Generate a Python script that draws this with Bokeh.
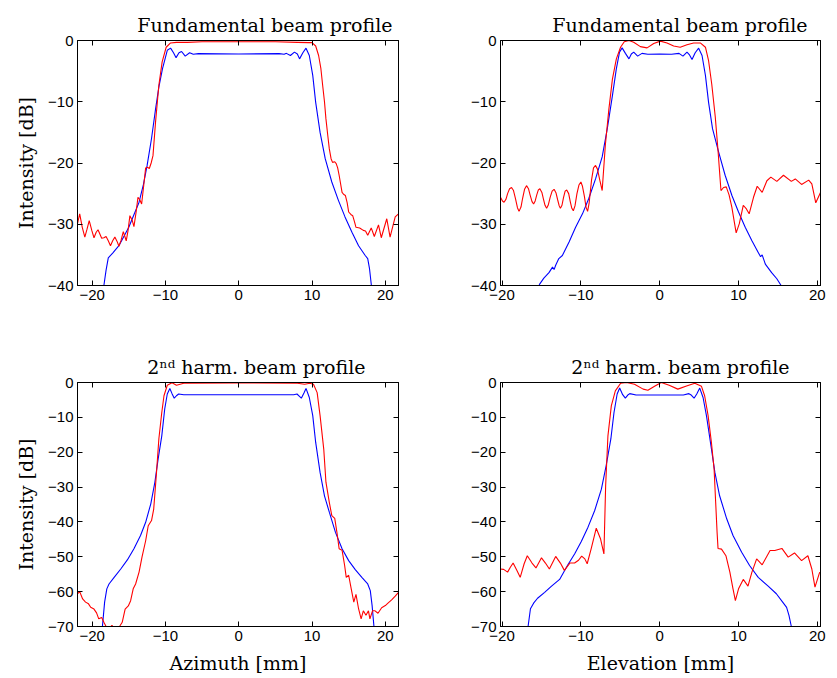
from bokeh.plotting import figure
from bokeh.models import Range1d, FixedTicker, LinearAxis, CustomJSTickFormatter
from bokeh.layouts import column, row
from bokeh.embed import file_html
from bokeh.resources import INLINE

# ---------------- data ----------------
# Top-left: fundamental, azimuth
az_fund_blue_x = [-18.4, -18.1, -17.8, -17.2, -16.35, -15.0, -13.6, -13.0, -12.5, -11.9, -11.35,
                  -10.9, -10.4, -9.75, -9.3, -8.9, -8.55, -8.15, -7.8, -7.3, -6.7, -6.2, -5.5,
                  0.0, 5.5, 6.2, 6.5, 7.05, 7.6, 8.0, 8.3, 8.75, 9.18, 9.63, 10.1, 10.5, 11.1,
                  11.8, 12.7, 13.6, 14.5, 15.45, 16.35, 17.26, 17.6, 17.85, 18.1]
az_fund_blue_y = [-40.0, -37.5, -35.5, -34.7, -33.5, -30.5, -26.4, -23.5, -20.4, -16.0, -11.2,
                  -7.6, -4.6, -1.6, -1.25, -2.0, -2.8, -2.0, -1.8, -2.55, -2.0, -2.25, -2.15,
                  -2.2, -2.15, -2.25, -2.1, -2.45, -1.9, -2.2, -3.0, -2.0, -1.25, -2.45, -5.7,
                  -10.1, -15.0, -19.3, -23.1, -26.1, -28.8, -31.3, -33.5, -35.1, -35.6, -37.3, -40.0]
az_fund_red_x = [-22.0, -21.7, -21.35, -21.0, -20.7, -20.4, -20.05, -19.75, -19.45, -19.2, -18.95,
                 -18.7, -18.4, -18.1, -17.8, -17.5, -17.2, -16.9, -16.6, -16.35, -16.05, -15.75,
                 -15.35, -15.1, -14.85, -14.55, -14.3, -14.0, -13.75, -13.5, -13.25, -12.95, -12.7,
                 -12.45, -12.2, -11.95, -11.7, -11.35, -10.9, -10.45, -9.9, -9.3, -8.5, -7.0, -5.0,
                 0.0, 5.0, 8.0, 9.5, 10.0, 10.5, 10.9, 11.2, 11.45, 11.7, 11.9, 12.15, 12.36, 12.6,
                 12.8, 13.1, 13.3, 13.5, 13.7, 14.1, 14.3, 14.55, 14.8, 15.0, 15.3, 15.55, 15.8,
                 16.0, 16.5, 17.0, 17.3, 17.6, 18.08, 18.5, 19.07, 19.45, 20.2, 20.65, 21.35, 21.8]
az_fund_red_y = [-29.9, -28.3, -30.5, -32.1, -30.8, -29.4, -31.0, -32.2, -31.3, -30.9, -31.6,
                 -32.3, -32.2, -32.0, -32.7, -33.5, -32.7, -32.1, -32.8, -33.6, -32.6, -31.2,
                 -32.7, -31.0, -28.6, -29.3, -30.4, -28.0, -25.6, -26.0, -26.7, -23.5, -20.8,
                 -20.7, -20.9, -20.0, -18.8, -13.3, -7.3, -3.5, -1.1, -0.4, -0.3, -0.3, -0.2,
                 -0.2, -0.2, -0.3, -0.35, -0.35, -0.9, -2.45, -4.5, -7.3, -10.0, -12.8, -15.5, -17.7, -19.3,
                 -19.9, -19.8, -20.1, -20.8, -22.0, -24.8, -25.1, -25.3, -26.5, -28.0, -28.4, -28.6, -29.6,
                 -30.5, -30.6, -31.0, -31.1, -31.8, -30.6, -32.0, -30.1, -32.2, -29.1, -32.1, -28.8, -28.3]

# Top-right: fundamental, elevation
el_fund_blue_x = [-15.3, -14.7, -14.05, -13.6, -13.4, -13.2, -12.8, -12.35, -11.5, -10.67, -9.8,
                  -9.0, -8.14, -7.3, -6.65, -6.0, -5.5, -5.1, -4.77, -4.35, -3.9, -3.6, -3.3,
                  -2.8, -2.25, -1.5, 0.0, 1.5, 2.45, 2.95, 3.46, 3.75, 4.1, 4.5, 4.94, 5.37, 5.8,
                  6.2, 6.7, 7.47, 8.3, 9.16, 10.0, 10.85, 11.7, 12.5, 12.8, 13.0, 13.4, 14.2, 14.86, 15.4]
el_fund_blue_y = [-39.9, -38.8, -37.9, -37.0, -37.4, -36.7, -35.6, -35.1, -32.9, -30.5, -28.3,
                  -25.8, -22.6, -19.0, -14.4, -9.0, -4.6, -1.9, -1.2, -2.1, -3.0, -2.2, -1.9,
                  -2.55, -2.1, -2.25, -2.2, -2.25, -2.1, -2.55, -1.9, -2.3, -3.1, -2.0, -1.25, -2.45, -5.7,
                  -10.1, -14.4, -18.2, -22.0, -25.3, -28.0, -30.5, -32.7, -34.6, -35.3, -35.0, -36.5,
                  -37.9, -38.9, -40.0]
el_fund_red_x = [-20.2, -19.95, -19.75, -19.5, -19.3, -19.05, -18.8, -18.55, -18.3, -18.05, -17.85,
                 -17.6, -17.4, -17.15, -16.9, -16.65, -16.45, -16.2, -16.0, -15.8, -15.6, -15.4,
                 -15.2, -14.95, -14.75, -14.55, -14.35, -14.15, -13.9, -13.65, -13.4, -13.15, -12.95,
                 -12.75, -12.6, -12.4, -12.2, -12.0, -11.8, -11.55, -11.35, -11.15, -10.96, -10.75,
                 -10.5, -10.25, -10.0, -9.8, -9.55, -9.35, -9.15, -8.95, -8.65, -8.4, -8.14, -7.9,
                 -7.6, -7.3, -6.9, -6.45, -6.0, -5.5,
                 -4.97, -4.5, -3.9, -3.3, -2.45, -1.6, -0.76, 0.08, 0.93, 1.77, 2.6, 3.46, 4.3,
                 5.15, 5.8, 6.2, 6.6, 7.05, 7.4, 7.77, 8.1, 8.44, 8.8, 9.15, 9.5, 9.7, 10.1, 10.6,
                 11.0, 11.35, 11.9, 12.37, 13.0, 13.6, 14.1, 14.86, 15.7, 16.7, 17.2, 18.0, 18.9,
                 19.3, 19.8, 20.4]
el_fund_red_y = [-25.6, -26.2, -26.4, -25.9, -25.0, -24.2, -24.0, -24.5, -25.8, -27.3, -27.9,
                 -27.2, -25.8, -24.3, -23.7, -24.2, -25.2, -26.3, -26.7, -26.2, -25.2, -24.4,
                 -24.2, -24.8, -25.9, -26.9, -27.4, -26.9, -25.6, -24.6, -24.3, -24.9, -26.0,
                 -27.0, -27.4, -26.9, -25.6, -24.6, -24.4, -25.0, -26.3, -27.4, -27.8, -27.0,
                 -25.0, -23.6, -23.1, -23.8, -25.5, -27.2, -27.9, -26.5, -22.8, -20.8, -20.4, -21.0,
                 -22.8, -24.5, -17.1, -11.2, -6.3, -3.0,
                 -1.1, -0.2, 0.0, -0.3, -1.0, -1.2, -0.5, -0.1, -0.4, -0.9, -1.1, -0.7, -0.4,
                 -0.4, -1.1, -3.3, -7.1, -12.5, -18.0, -24.5, -24.0, -23.9, -25.2, -27.2, -29.9, -31.4,
                 -29.9, -26.9, -27.5, -28.3, -25.6, -23.8, -24.8, -22.9, -22.3, -23.0, -22.0, -23.0,
                 -22.6, -23.5, -22.8, -23.4, -26.5, -24.8]

# Bottom-left: 2nd harmonic, azimuth
az_harm_blue_x = [-18.6, -18.3, -18.0, -17.7, -17.0, -16.1, -15.2, -14.3, -13.4, -12.7, -12.0,
                  -11.45, -11.0, -10.5, -10.1, -9.75, -9.4, -9.1, -8.8, -8.5, -8.2, -7.5, 0.0,
                  7.5, 7.95, 8.25, 8.54, 8.9, 9.18, 9.63, 10.1, 10.5, 11.1, 11.7, 12.36, 13.2,
                  14.1, 15.0, 15.9, 16.8, 17.6, 17.95, 18.2, 18.45]
az_harm_blue_y = [-70.0, -63.0, -59.2, -57.8, -55.9, -53.5, -50.9, -47.7, -43.9, -40.1, -34.8,
                  -28.7, -22.0, -15.3, -7.6, -3.3, -1.7, -3.2, -4.5, -3.8, -3.3, -3.5, -3.5,
                  -3.5, -3.3, -3.9, -4.5, -3.0, -1.7, -4.3, -9.5, -17.2, -25.8, -32.5, -37.2, -43.0,
                  -47.7, -51.1, -53.7, -55.9, -57.8, -59.7, -64.0, -70.0]
az_harm_red_x = [-22.0, -21.7, -21.3, -20.9, -20.5, -20.2, -19.75, -19.4, -19.1, -18.7, -18.4,
                 -18.1, -17.7, -17.3, -16.9, -16.5, -16.2, -15.9, -15.5, -15.07, -14.75, -14.4,
                 -14.07, -13.6, -13.2, -12.7, -12.35, -11.9, -11.6, -11.25, -10.9, -10.5, -10.2,
                 -9.75, -9.1, -8.5, -7.5, 0.0, 8.0, 9.0, 9.7, 10.2, 10.7, 11.1, 11.6, 11.9, 12.36,
                 12.7, 13.1, 13.4, 13.7, 14.1, 14.45, 14.67, 15.0, 15.35, 15.7, 16.0, 16.35, 16.7,
                 17.0, 17.36, 17.7, 17.9, 18.25, 18.6, 19.0, 19.5, 20.0, 20.4, 20.9, 21.35, 21.8]
az_harm_red_y = [-60.6, -60.0, -62.1, -63.0, -63.5, -64.5, -65.0, -66.1, -67.8, -67.4, -68.8,
                 -70.0, -70.6, -69.7, -70.8, -71.2, -69.8, -68.8, -65.0, -64.1, -62.6, -59.2,
                 -57.8, -54.4, -50.1, -45.4, -41.1, -39.6, -36.3, -26.7, -16.2, -8.6, -3.8,
                 -0.8, -0.1, -0.8, -0.2, -0.1, -0.2, -0.5, -0.2, -0.5, -2.9, -9.5, -19.1, -28.6, -34.4,
                 -38.2, -39.0, -43.0, -47.7, -48.1, -52.5, -55.9, -55.3, -59.2, -63.0, -60.8, -64.9, -67.8,
                 -65.5, -66.8, -65.5, -67.8, -65.5, -65.5, -66.2, -64.6, -64.0, -63.2, -62.3, -61.3, -60.2]

# Bottom-right: 2nd harmonic, elevation
el_harm_blue_x = [-16.7, -16.4, -16.0, -15.5, -14.6, -13.76, -12.7, -11.65, -10.8, -9.95, -9.1,
                  -8.26, -7.4, -6.8, -6.2, -5.8, -5.4, -5.08, -4.7, -4.36, -4.05, -3.8, -3.0,
                  3.0, 3.7, 4.0, 4.36, 4.7, 5.08, 5.5, 5.93, 6.5, 7.0, 7.6, 8.5, 9.3, 10.4, 11.4,
                  12.5, 13.76, 14.8, 15.6, 16.1, 16.4, 16.7]
el_harm_blue_y = [-70.0, -64.9, -63.3, -61.9, -60.2, -58.5, -56.5, -52.3, -49.2, -45.6, -41.5,
                  -36.8, -30.6, -23.9, -16.2, -8.6, -3.3, -1.6, -3.5, -4.5, -3.6, -3.2, -3.6,
                  -3.6, -3.2, -3.6, -4.5, -3.3, -1.6, -4.3, -9.5, -18.1, -25.8, -32.5, -39.1, -43.9,
                  -48.7, -52.5, -55.9, -58.4, -60.6, -63.0, -64.5, -66.8, -70.0]
el_harm_red_x = [-20.3, -19.8, -19.3, -18.95, -18.6, -18.1, -17.7, -17.2, -16.8, -16.2, -15.7, -15.0,
                 -14.5, -14.0, -13.2, -12.6, -12.1, -11.4, -10.8, -10.3, -9.9, -9.5, -9.2, -8.7,
                 -8.05, -7.5, -7.08, -6.86, -6.57, -6.14, -5.63, -4.96, -4.2, -3.2, -2.1, -1.5,
                 -0.6, 0.2, 1.2, 2.3, 3.4, 4.45, 5.3, 5.7, 6.14, 6.56, 6.9, 7.1, 7.28, 7.4, 7.84,
                 8.4, 8.9, 9.3, 9.6, 10.0, 10.6, 11.2, 11.7, 12.3, 13.0, 14.0, 14.6, 15.5, 16.3,
                 17.1, 18.0, 18.8, 19.3, 19.7, 20.3]
el_harm_red_y = [-53.5, -53.6, -54.4, -53.0, -51.8, -54.0, -55.9, -52.0, -49.7, -51.8, -53.2, -50.3,
                 -51.8, -53.5, -49.9, -51.8, -53.9, -51.8, -51.8, -51.0, -49.8, -50.6, -52.0, -47.7,
                 -41.8, -44.9, -49.2, -29.6, -15.3, -6.7, -2.4, -0.2, 0.0, -0.5, -1.9, -2.2,
                 -1.0, 0.0, -0.8, -1.9, -1.0, -0.2, -1.1, -3.8, -9.5, -17.2, -24.8, -34.4, -43.0, -47.6, -47.8,
                 -49.7, -54.4, -59.2, -62.6, -59.2, -56.5, -58.4, -54.4, -50.6, -52.3, -48.2, -48.2, -47.6, -50.1,
                 -48.9, -51.1, -49.7, -53.5, -58.7, -54.4]

x_ticks = [-20, -10, 0, 10, 20]
y_ticks_fund = [-40, -30, -20, -10, 0]
y_ticks_harm = [-70, -60, -50, -40, -30, -20, -10, 0]

title_fund = "Fundamental beam profile"
title_harm = "2\u207f\u1d48 harm. beam profile"
ylabel = "Intensity [dB]"
xlabel_az = "Azimuth [mm]"
xlabel_el = "Elevation [mm]"

RED = "#ff0000"
BLUE = "#0000ff"

minus_fmt = "return tick < 0 ? '\\u2212' + Math.abs(tick) : tick.toString();"


def style_axis(ax, ticks, show_labels):
    ax.ticker = FixedTicker(ticks=ticks)
    ax.axis_line_color = "black"
    ax.axis_line_width = 1
    ax.major_tick_line_color = "black"
    ax.major_tick_in = 5
    ax.major_tick_out = 0
    ax.minor_tick_line_color = None
    if show_labels:
        ax.formatter = CustomJSTickFormatter(code=minus_fmt)
        ax.major_label_text_font = "Liberation Sans"
        ax.major_label_text_font_size = "15px"
        ax.major_label_text_color = "black"
        ax.major_label_standoff = 4
    else:
        ax.formatter = CustomJSTickFormatter(code="return '';")
        ax.major_label_text_font_size = "0px"
        ax.major_label_standoff = 0
    ax.axis_label_text_font = "DejaVu Serif"
    ax.axis_label_text_font_style = "normal"
    ax.axis_label_text_font_size = "19px"
    ax.axis_label_text_color = "black"
    ax.axis_label_standoff = 8


def make_panel(xr, yr, yticks, title, xlabel, ylabel_text, blue, red,
               width, height, bl, br, bt, bb, title_offset):
    p = figure(width=width, height=height, x_range=Range1d(*xr), y_range=Range1d(*yr),
               output_backend="svg", toolbar_location=None,
               min_border_left=bl, min_border_right=br, min_border_top=bt, min_border_bottom=bb)
    p.xgrid.visible = False
    p.ygrid.visible = False
    p.outline_line_color = "black"
    p.outline_line_alpha = 1.0
    p.background_fill_color = "white"
    p.border_fill_color = "white"

    style_axis(p.xaxis[0], x_ticks, True)
    style_axis(p.yaxis[0], yticks, True)
    if xlabel:
        p.xaxis[0].axis_label = xlabel
    if ylabel_text:
        p.yaxis[0].axis_label = ylabel_text

    top_ax = LinearAxis()
    style_axis(top_ax, x_ticks, False)
    p.add_layout(top_ax, "above")
    right_ax = LinearAxis()
    style_axis(right_ax, yticks, False)
    p.add_layout(right_ax, "right")

    p.title.text = title
    p.title.text_font = "DejaVu Serif"
    p.title.text_font_size = "19px"
    p.title.text_font_style = "normal"
    p.title.text_color = "black"
    p.title.align = "right"
    p.title.offset = title_offset
    p.title.standoff = 9

    p.line(blue[0], blue[1], line_color=BLUE, line_width=1.1)
    p.line(red[0], red[1], line_color=RED, line_width=1.1)
    return p


p1 = make_panel((-22.0, 21.8), (-40, 0), y_ticks_fund, title_fund, None, ylabel,
                (az_fund_blue_x, az_fund_blue_y), (az_fund_red_x, az_fund_red_y),
                418, 339, 77, 20, 40, 54, 6)
p2 = make_panel((-20.2, 20.4), (-40, 0), y_ticks_fund, title_fund, None, None,
                (el_fund_blue_x, el_fund_blue_y), (el_fund_red_x, el_fund_red_y),
                419, 339, 82, 17, 40, 54, 13)
p3 = make_panel((-22.0, 21.8), (-70, 0), y_ticks_harm, title_harm, xlabel_az, ylabel,
                (az_harm_blue_x, az_harm_blue_y), (az_harm_red_x, az_harm_red_y),
                418, 339, 77, 20, 43, 52, 33)
p4 = make_panel((-20.2, 20.4), (-70, 0), y_ticks_harm, title_harm, xlabel_el, None,
                (el_harm_blue_x, el_harm_blue_y), (el_harm_red_x, el_harm_red_y),
                419, 339, 82, 17, 43, 52, 31)

layout = column(row(p1, p2), row(p3, p4))
open("out.html", "w").write(file_html(layout, INLINE))
